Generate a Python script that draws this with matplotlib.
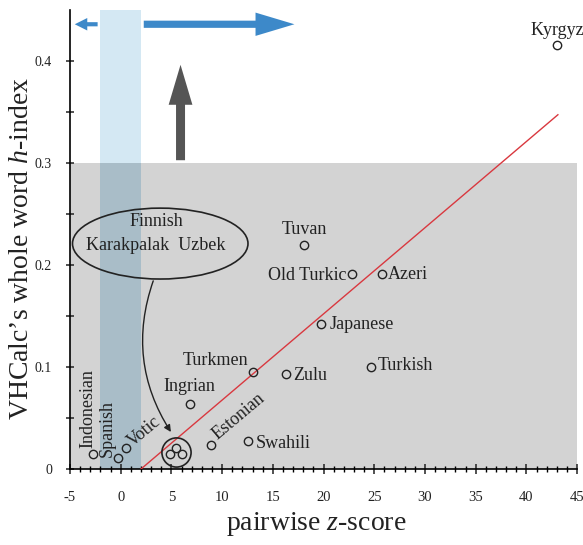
import numpy as np
import matplotlib
matplotlib.use('Agg')
import matplotlib.pyplot as plt
from matplotlib.patches import Rectangle, Ellipse, FancyArrowPatch

plt.rcParams['font.family'] = ['Liberation Serif', 'DejaVu Serif']
plt.rcParams['mathtext.fontset'] = 'custom'
plt.rcParams['mathtext.rm'] = 'Liberation Serif'
plt.rcParams['mathtext.it'] = 'Liberation Serif:italic'

# languages: pairwise z-score vs whole word h-index
languages = ['Kyrgyz', 'Tuvan', 'Old Turkic', 'Azeri', 'Japanese', 'Turkmen',
             'Zulu', 'Turkish', 'Ingrian', 'Estonian', 'Swahili',
             'Indonesian', 'Spanish', 'Votic']
z_score = [43.0, 18.1, 22.85, 25.8, 19.7, 13.05, 16.3, 24.7, 6.8, 8.9, 12.55,
           -2.7, -0.3, 0.5]
h_index = [0.416, 0.220, 0.191, 0.191, 0.142, 0.095, 0.093, 0.100, 0.064,
           0.024, 0.027, 0.015, 0.011, 0.021]

# the three grouped languages (Finnish, Karakpalak, Uzbek)
group_z = [5.5, 4.9, 6.0]
group_h = [0.021, 0.015, 0.015]

# label placement: (x, y, ha, va, rotation)
label_pos = {
    'Kyrgyz': (43.0, 0.430, 'center', 'center', 0),
    'Tuvan': (18.1, 0.235, 'center', 'center', 0),
    'Old Turkic': (22.3, 0.190, 'right', 'center', 0),
    'Azeri': (26.3, 0.191, 'left', 'center', 0),
    'Japanese': (20.6, 0.142, 'left', 'center', 0),
    'Turkmen': (12.6, 0.106, 'right', 'center', 0),
    'Zulu': (17.0, 0.092, 'left', 'center', 0),
    'Turkish': (25.3, 0.101, 'left', 'center', 0),
    'Ingrian': (6.8, 0.081, 'center', 'center', 0),
    'Swahili': (13.3, 0.025, 'left', 'center', 0),
    'Indonesian': (-3.25, 0.021, 'center', 'bottom', 90),
    'Spanish': (-1.3, 0.012, 'center', 'bottom', 90),
}
rotated_pos = {
    'Estonian': (9.8, 0.025),
    'Votic': (1.4, 0.019),
}

# fitted line
line_x = [2.0, 43.1]
line_slope = 0.00845

fig = plt.figure(figsize=(5.83, 5.45), dpi=100)
ax = fig.add_axes([0.120, 0.1394, 0.870, 0.8423])

# shaded regions
ax.add_patch(Rectangle((-5, 0), 50, 0.3, facecolor='#d3d3d3', edgecolor='none', zorder=0))
ax.add_patch(Rectangle((-2, 0.3), 4, 0.15, facecolor='#d4e8f3', edgecolor='none', zorder=1))
ax.add_patch(Rectangle((-2, 0), 4, 0.3, facecolor='#a9bdc8', edgecolor='none', zorder=1))

# blue arrows along the top
ax.add_patch(FancyArrowPatch((-2.0, 0.436), (-4.8, 0.436),
                             arrowstyle='simple,head_length=0.75,head_width=0.75,tail_width=0.25',
                             mutation_scale=12, color='#3d89c9', lw=0, zorder=2))
ax.add_patch(FancyArrowPatch((2.0, 0.436), (17.4, 0.436),
                             arrowstyle='simple,head_length=2.0,head_width=1.2,tail_width=0.37',
                             mutation_scale=14, color='#3d89c9', lw=0, zorder=2))
# dark upward arrow
ax.add_patch(FancyArrowPatch((5.9, 0.3), (5.9, 0.399),
                             arrowstyle='simple,head_length=1.6,head_width=0.95,tail_width=0.36',
                             mutation_scale=18, color='#555555', lw=0, zorder=2))

lx = np.array(line_x)
ax.plot(lx, (lx - 2.0) * line_slope, color='#d9383f', lw=1.0, zorder=3)

ax.plot(z_score, h_index, 'o', ms=6, mfc='none', mec='#222222', mew=1.0, zorder=4)
ax.plot(group_z, group_h, 'o', ms=6, mfc='none', mec='#222222', mew=1.0, zorder=4)
ax.plot([5.45], [0.017], 'o', ms=21, mfc='none', mec='#222222', mew=1.2, zorder=4)

fs = 13
for name, (x, y, ha, va, rot) in label_pos.items():
    ax.text(x, y, name, ha=ha, va=va, rotation=rot, fontsize=fs, color='#222222', zorder=5)
for name, (x, y) in rotated_pos.items():
    ax.text(x, y, name, ha='left', va='bottom', rotation=40, rotation_mode='anchor',
            fontsize=fs, color='#222222', zorder=5)

# ellipse with grouped languages
ax.add_patch(Ellipse((3.9, 0.221), 17.3, 0.0695, facecolor='none', edgecolor='#222222',
                     lw=1.2, zorder=5))
ax.text(3.5, 0.2425, 'Finnish', ha='center', va='center', fontsize=fs, color='#222222', zorder=5)
ax.text(3.5, 0.2196, 'Karakpalak  Uzbek', ha='center', va='center', fontsize=fs,
        color='#222222', zorder=5)
ax.add_patch(FancyArrowPatch((3.3, 0.187), (5.1, 0.034),
                             connectionstyle='arc3,rad=0.25', arrowstyle='-|>',
                             mutation_scale=10, color='#222222', lw=1.0, zorder=5))

ax.set_xlim(-5, 45)
ax.set_ylim(0, 0.45)
ax.spines['top'].set_visible(False)
ax.spines['right'].set_visible(False)
ax.spines['left'].set_linewidth(1.2)
ax.spines['bottom'].set_linewidth(1.2)

ax.set_xticks(np.arange(-5, 46, 5))
ax.set_xticklabels([str(v) for v in range(-5, 46, 5)])
ax.set_xticks(np.arange(-5, 46, 1), minor=True)
ax.set_yticks([0, 0.1, 0.2, 0.3, 0.4])
ax.set_yticklabels(['0', '0.1', '0.2', '0.3', '0.4'])
ax.set_yticks([0.05, 0.15, 0.25, 0.35], minor=True)
ax.tick_params(axis='x', which='major', direction='inout', length=7, width=1.1,
               labelsize=10.5, pad=12, colors='#222222')
ax.tick_params(axis='x', which='minor', direction='inout', length=5, width=1.0)
ax.tick_params(axis='y', which='both', direction='inout', length=6, width=1.1,
               labelsize=10, pad=10, colors='#222222')

ax.set_xlabel(r'pairwise $z$-score', fontsize=20, color='#222222')
ax.xaxis.set_label_coords(0.485, -0.09)
ax.set_ylabel(r'VHCalc’s whole word $h$-index', fontsize=20, color='#222222')
ax.yaxis.set_label_coords(-0.07, 0.48)

fig.savefig('out.png', dpi=100)
plt.close()
